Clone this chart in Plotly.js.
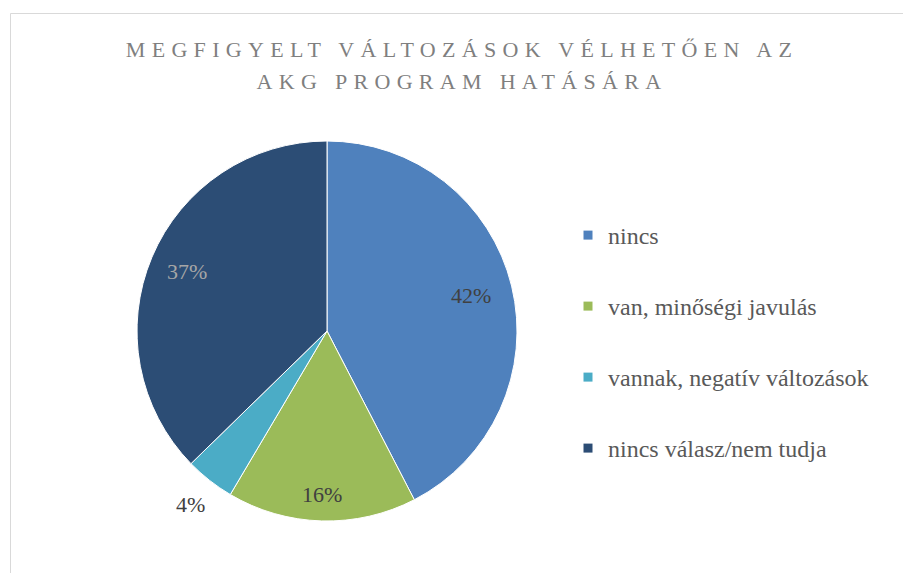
<!DOCTYPE html>
<html><head><meta charset="utf-8">
<script src="https://cdn.plot.ly/plotly-3.0.1.min.js"></script>
<style>
html,body{margin:0;padding:0;background:#fff;}
#chart{width:903px;height:573px;}
.gtitle{letter-spacing:6.3px;}
</style></head><body>
<div id="chart"></div>
<script>
// data
const categories = ['nincs', 'van, minőségi javulás', 'vannak, negatív változások', 'nincs válasz/nem tudja'];
const shares = [42.4, 16.1, 4.2, 37.3];
const titleLines = ['MEGFIGYELT VÁLTOZÁSOK VÉLHETŐEN AZ', 'AKG PROGRAM HATÁSÁRA'];

// styles
const sliceColors = ['#4f81bd', '#9bbb59', '#4bacc6', '#2c4d75'];
const labelColors = ['#404040', '#404040', '#404040', '#a6a6a6'];
const labelRadius = [0.78, 0.86, 1.16, 0.80];   // label distance from centre, in pie radii
const SERIF = '"Liberation Serif", "DejaVu Serif", serif';

const W = 903, H = 573;
const M = {l: 0, r: 0, t: 141, b: 52};
const plotW = W - M.l - M.r, plotH = H - M.t - M.b;
const pieDomX = [137 / W, 517 / W];
const pieCx = (pieDomX[0] + pieDomX[1]) / 2, pieCy = 0.5;
const pieR = Math.min((pieDomX[1] - pieDomX[0]) * plotW, plotH) / 2;

const total = shares.reduce((a, b) => a + b, 0);
let cum = 0;
const labelAnnotations = shares.map((v, i) => {
  const mid = (cum + v / 2) / total * 2 * Math.PI;
  cum += v;
  const rr = labelRadius[i] * pieR;
  return {
    xref: 'paper', yref: 'paper',
    x: pieCx + Math.sin(mid) * rr / plotW,
    y: pieCy + Math.cos(mid) * rr / plotH,
    text: Math.round(v / total * 100) + '%',
    showarrow: false, xanchor: 'center', yanchor: 'middle',
    font: {family: SERIF, size: 22, color: labelColors[i]}
  };
});

const pie = {
  type: 'pie',
  labels: categories,
  values: shares,
  sort: false,
  direction: 'clockwise',
  rotation: 0,
  marker: {colors: sliceColors, line: {color: '#ffffff', width: 1}},
  textinfo: 'none',
  showlegend: false,
  domain: {x: pieDomX, y: [0, 1]},
  hoverinfo: 'label+percent'
};

// legend entries (one per category, same colours as the slices)
const legendEntries = categories.map((c, i) => ({
  type: 'scatter', mode: 'markers',
  x: [null], y: [null],
  name: c, legendgroup: 'g' + i,
  marker: {symbol: 'square', size: 9, color: sliceColors[i]},
  hoverinfo: 'skip'
}));

const layout = {
  width: W, height: H,
  margin: {l: M.l, r: M.r, t: M.t, b: M.b, pad: 0},
  paper_bgcolor: '#ffffff',
  plot_bgcolor: 'rgba(0,0,0,0)',
  font: {family: SERIF, color: '#595959'},
  showlegend: true,
  xaxis: {visible: false, fixedrange: true},
  yaxis: {visible: false, fixedrange: true},
  title: {
    text: titleLines.join('<br>'),
    font: {family: SERIF, size: 22, color: '#7f7f7f'},
    x: 462 / W, xanchor: 'center',
    y: 1 - 57 / H, yanchor: 'top', yref: 'container'
  },
  legend: {
    x: 568 / W, xanchor: 'left',
    y: (521 - 213) / 380, yanchor: 'top',
    bgcolor: 'rgba(0,0,0,0)',
    font: {family: SERIF, size: 24, color: '#595959'},
    traceorder: 'grouped',
    tracegroupgap: 71 - (24 * 1.3 + 3)
  },
  annotations: labelAnnotations,
  shapes: [{
    type: 'rect', xref: 'paper', yref: 'paper',
    x0: 10.5 / W, x1: 1.05, y0: -0.3, y1: (521 - 13.5) / 380,
    line: {color: '#d9d9d9', width: 1}, fillcolor: 'rgba(0,0,0,0)', layer: 'below'
  }]
};

Plotly.newPlot('chart', [pie].concat(legendEntries), layout, {staticPlot: true, displayModeBar: false}).then(gd => {
  const lines = gd.querySelectorAll('.gtitle tspan.line');
  if (lines.length > 1) lines[1].setAttribute('dy', '1.45em');
});
</script></body></html>
